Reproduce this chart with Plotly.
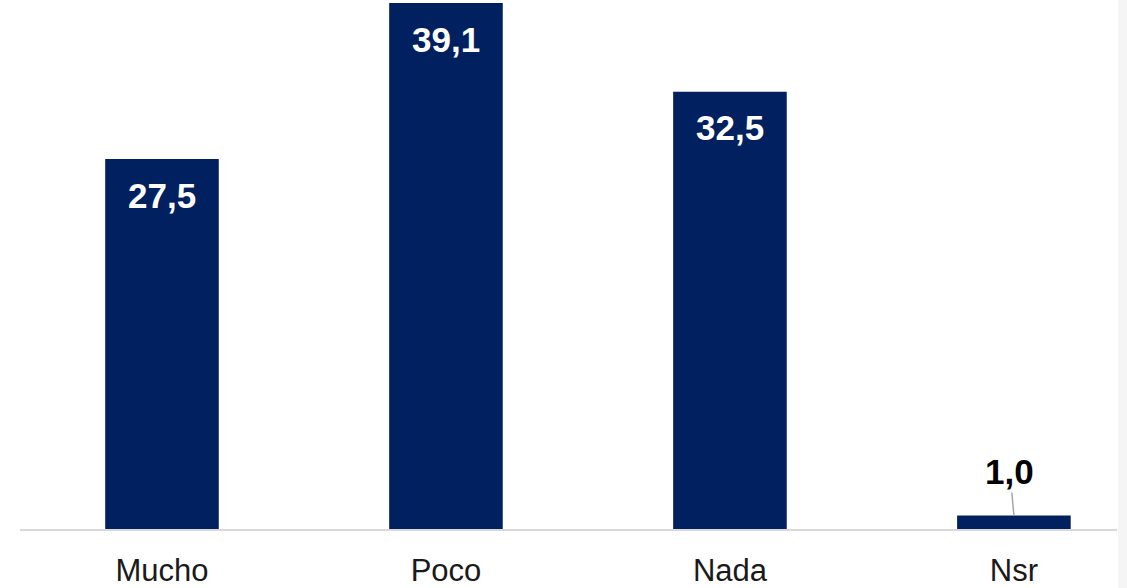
import plotly.graph_objects as go

categories = ["Mucho", "Poco", "Nada", "Nsr"]
values = [27.5, 39.1, 32.5, 1.0]
labels = ["27,5", "39,1", "32,5", "1,0"]

bar_color = "#002060"
font_family = "Liberation Sans, Arial, sans-serif"

fig = go.Figure()
fig.add_trace(go.Bar(
    x=list(range(len(categories))),
    y=values,
    marker=dict(color=bar_color, line=dict(width=0)),
    width=0.4,
    hoverinfo="skip",
))

annotations = []
for i, (v, lab) in enumerate(zip(values, labels)):
    if v > 5:
        annotations.append(dict(
            x=i, y=v, xref="x", yref="y", text="<b>%s</b>" % lab,
            showarrow=False, yanchor="middle", yshift=-36,
            font=dict(family=font_family, size=35, color="white"),
        ))
    else:
        annotations.append(dict(
            x=i, y=v, xref="x", yref="y", text="<b>%s</b>" % lab,
            showarrow=True, arrowhead=0, arrowwidth=1.5, arrowcolor="#a6a6a6",
            ax=-4, ay=-44, standoff=0,
            font=dict(family=font_family, size=35, color="black"),
        ))

fig.update_layout(
    width=1127, height=588,
    margin=dict(l=20, r=10, t=0, b=59),
    paper_bgcolor="white", plot_bgcolor="white",
    showlegend=False,
    xaxis=dict(
        tickmode="array", tickvals=list(range(len(categories))), ticktext=categories,
        range=[-0.5, 3.363],
        showline=True, linecolor="#d9d9d9", linewidth=2,
        showgrid=False, zeroline=False,
        ticks="outside", ticklen=13, tickcolor="rgba(0,0,0,0)",
        tickfont=dict(family=font_family, size=31, color="#1a1a1a"),
    ),
    yaxis=dict(range=[0, 39.33], visible=False, showgrid=False, zeroline=False),
    annotations=annotations,
    shapes=[dict(type="rect", xref="paper", yref="paper", x0=1.0009, x1=1.02,
                 y0=-0.2, y1=1.0, fillcolor="#f5f5f5", line=dict(width=0), layer="below")],
)

fig.write_html("out.html", config={"displayModeBar": False},
               post_script="document.body.style.margin='0';document.body.style.overflow='hidden';")
